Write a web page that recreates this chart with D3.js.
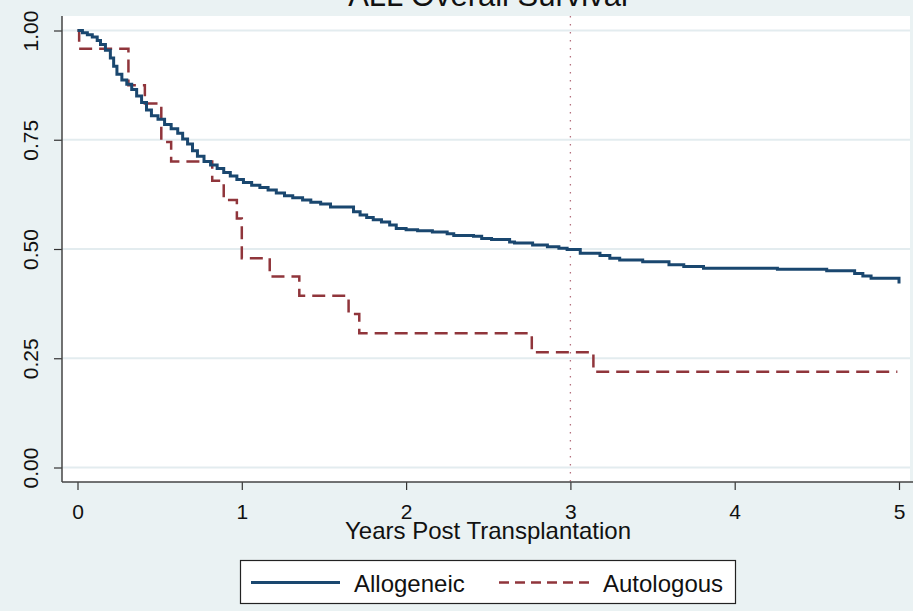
<!DOCTYPE html>
<html>
<head>
<meta charset="utf-8">
<script src="https://cdn.jsdelivr.net/npm/d3@7"></script>
<style>
  body { margin: 0; background: #eaf2f3; }
  text { font-family: "Liberation Sans", Arial, sans-serif; fill: #111; }
</style>
</head>
<body>
<svg id="chart"></svg>
<script>
// Kaplan-Meier step points (years, survival after the step)
const alloTimes = [0, 0.03, 0.06, 0.09, 0.12, 0.14, 0.17, 0.20, 0.22, 0.24, 0.27, 0.30, 0.33, 0.36, 0.39,
  0.42, 0.45, 0.49, 0.53, 0.57, 0.61, 0.64, 0.67, 0.70, 0.73, 0.77, 0.81, 0.85, 0.89, 0.93, 0.97,
  1.01, 1.06, 1.11, 1.16, 1.21, 1.26, 1.31, 1.37, 1.42, 1.48, 1.54, 1.68, 1.72, 1.76, 1.80, 1.85,
  1.90, 1.94, 2.00, 2.07, 2.16, 2.25, 2.29, 2.41, 2.46, 2.52, 2.63, 2.66, 2.77, 2.86, 2.93, 2.98,
  3.06, 3.18, 3.24, 3.30, 3.44, 3.60, 3.69, 3.81, 4.26, 4.56, 4.73, 4.78, 4.83, 5.00];
const alloSurv = [1.0, 0.995, 0.99, 0.985, 0.977, 0.968, 0.955, 0.937, 0.918, 0.9, 0.887, 0.877, 0.865, 0.85, 0.835,
  0.818, 0.805, 0.797, 0.785, 0.775, 0.765, 0.752, 0.74, 0.725, 0.712, 0.70, 0.692, 0.684, 0.675, 0.667, 0.659,
  0.652, 0.646, 0.641, 0.635, 0.628, 0.622, 0.617, 0.612, 0.607, 0.603, 0.596, 0.585, 0.578, 0.572, 0.567, 0.562,
  0.555, 0.547, 0.544, 0.542, 0.539, 0.535, 0.531, 0.529, 0.524, 0.522, 0.516, 0.514, 0.509, 0.505, 0.502, 0.499,
  0.490, 0.485, 0.479, 0.475, 0.471, 0.464, 0.460, 0.456, 0.4535, 0.450, 0.444, 0.438, 0.433, 0.421];

const autoTimes = [0, 0.01, 0.31, 0.41, 0.51, 0.57, 0.82, 0.89, 0.97, 1.0, 1.17, 1.35, 1.65, 1.715, 2.765, 3.14, 4.99];
const autoSurv = [1.0, 0.958, 0.875, 0.833, 0.745, 0.70, 0.656, 0.612, 0.570, 0.479, 0.437, 0.393, 0.351, 0.307, 0.264, 0.219, 0.219];

const yTicks = [0, 0.25, 0.5, 0.75, 1];
const xTicks = [0, 1, 2, 3, 4, 5];
const refYear = 3;
const seriesNames = ["Allogeneic", "Autologous"];

const width = 913, height = 611;
const svg = d3.select("#chart").attr("width", width).attr("height", height);

// plot region
const plotLeft = 62, plotRight = 910, plotTop = 16, plotBottom = 482;
const x = d3.scaleLinear().domain([0, 5]).range([77.5, 899]);
const y = d3.scaleLinear().domain([0, 1]).range([467.5, 30.5]);

svg.append("rect")
    .attr("width", width).attr("height", height)
    .attr("fill", "#eaf2f3");

svg.append("rect")
    .attr("x", plotLeft).attr("y", plotTop)
    .attr("width", plotRight - plotLeft).attr("height", plotBottom - plotTop)
    .attr("fill", "#fff");

// gridlines
svg.append("g")
    .selectAll("line")
    .data(yTicks)
    .join("line")
    .attr("x1", plotLeft).attr("x2", plotRight)
    .attr("y1", d => y(d)).attr("y2", d => y(d))
    .attr("stroke", "#e3ecef")
    .attr("stroke-width", 2);

// reference line at 3 years
svg.append("line")
    .attr("x1", x(refYear)).attr("x2", x(refYear))
    .attr("y1", plotTop).attr("y2", plotBottom)
    .attr("stroke", "#b5707e")
    .attr("stroke-width", 1.3)
    .attr("stroke-dasharray", "1.5,6.5");

// y axis
const yAxis = svg.append("g")
    .attr("transform", `translate(${plotLeft},0)`)
    .call(d3.axisLeft(y).tickValues(yTicks).tickFormat(d3.format(".2f")).tickSize(8));
yAxis.select(".domain").remove();
yAxis.selectAll(".tick line").attr("stroke", "#333").attr("stroke-width", 1.2);
yAxis.selectAll(".tick text")
    .attr("x", null).attr("dy", null)
    .attr("transform", "translate(-24,0) rotate(-90)")
    .attr("text-anchor", "middle")
    .style("font-size", "21px")
    .style("font-family", "'Liberation Sans', Arial, sans-serif")
    .attr("fill", "#111");

// x axis
const xAxis = svg.append("g")
    .attr("transform", `translate(0,${plotBottom})`)
    .call(d3.axisBottom(x).tickValues(xTicks).tickFormat(d3.format("d")).tickSize(8).tickPadding(14));
xAxis.select(".domain").remove();
xAxis.selectAll(".tick line").attr("stroke", "#333").attr("stroke-width", 1.2);
xAxis.selectAll(".tick text")
    .style("font-size", "21px")
    .style("font-family", "'Liberation Sans', Arial, sans-serif")
    .attr("fill", "#111");

svg.append("line")
    .attr("x1", plotLeft).attr("x2", plotLeft)
    .attr("y1", plotTop).attr("y2", plotBottom)
    .attr("stroke", "#444").attr("stroke-width", 1.5);
svg.append("line")
    .attr("x1", plotLeft).attr("x2", width)
    .attr("y1", plotBottom).attr("y2", plotBottom)
    .attr("stroke", "#444").attr("stroke-width", 1.5);

// curves
const stepLine = d3.line()
    .x(d => x(d[0]))
    .y(d => y(d[1]))
    .curve(d3.curveStepAfter);

const alloData = d3.zip(alloTimes, alloSurv);
const autoData = d3.zip(autoTimes, autoSurv);

svg.append("path")
    .datum(autoData)
    .attr("d", stepLine)
    .attr("fill", "none")
    .attr("stroke", "#90353b")
    .attr("stroke-width", 2.5)
    .attr("stroke-dasharray", "13,7");

svg.append("path")
    .datum(alloData)
    .attr("d", stepLine)
    .attr("fill", "none")
    .attr("stroke", "#1a476f")
    .attr("stroke-width", 3);

// titles
svg.append("text")
    .attr("x", 488).attr("y", 6)
    .attr("text-anchor", "middle")
    .style("font-size", "31px")
    .attr("fill", "#1e1e1e")
    .text("ALL Overall Survival");

svg.append("text")
    .attr("x", 488).attr("y", 539)
    .attr("text-anchor", "middle")
    .style("font-size", "24px")
    .text("Years Post Transplantation");

// legend
const legend = svg.append("g");
legend.append("rect")
    .attr("x", 240.5).attr("y", 560.5)
    .attr("width", 495).attr("height", 43)
    .attr("fill", "#fff")
    .attr("stroke", "#222")
    .attr("stroke-width", 1.2);

legend.append("line")
    .attr("x1", 251).attr("x2", 340).attr("y1", 582.5).attr("y2", 582.5)
    .attr("stroke", "#1a476f").attr("stroke-width", 3);
legend.append("text")
    .attr("x", 354).attr("y", 592)
    .style("font-size", "24px")
    .text(seriesNames[0]);

legend.append("line")
    .attr("x1", 499).attr("x2", 590).attr("y1", 582.5).attr("y2", 582.5)
    .attr("stroke", "#90353b").attr("stroke-width", 2.5)
    .attr("stroke-dasharray", "10,6");
legend.append("text")
    .attr("x", 603).attr("y", 592)
    .style("font-size", "24px")
    .text(seriesNames[1]);
</script>
</body>
</html>
